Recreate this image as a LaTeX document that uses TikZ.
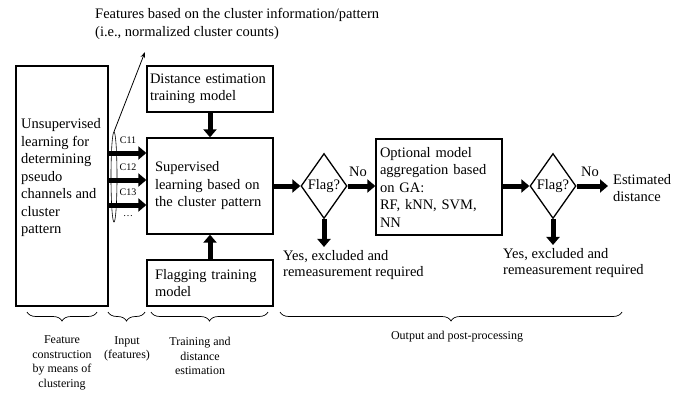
\documentclass[tikz,border=0pt]{standalone}
\usepackage{fontspec}
\setmainfont{Liberation Serif}
\usetikzlibrary{arrows.meta,shapes.geometric,decorations.pathreplacing}
\begin{document}
\begin{tikzpicture}[x=1pt,y=-1pt,
  mainfont/.style={font=\fontsize{14.5}{17.5}\selectfont},
  smallfont/.style={font=\fontsize{12}{14.5}\selectfont},
  tinyfont/.style={font=\fontsize{10}{12}\selectfont},
  box/.style={draw, line width=1.3pt, mainfont, align=left},
  flagbox/.style={draw, diamond, line width=1.3pt, mainfont, shape aspect=0.71, inner sep=0pt, minimum width=46pt, minimum height=65pt},
  bigarrow/.style={line width=5pt, -{Triangle[length=8pt,width=13pt]}},
  bracedeco/.style={decorate, decoration={brace, mirror, amplitude=9pt}, line width=0.7pt},
  plaintext/.style={mainfont, align=left, inner sep=0pt}
]
\useasboundingbox[fill=white] (0,0) rectangle (688,396);

% boxes
\node[draw, line width=1.3pt, minimum width=92pt, minimum height=240pt, inner sep=0pt] (unsup) at (62,186) {};
\node[plaintext, anchor=west] (unsuptext) at (21,178) {Unsupervised\\learning for\\determining\\pseudo\\channels and\\cluster\\pattern};

\node[box, text width=120pt, inner xsep=3pt, minimum height=46pt] (dist) at (210,89) {Distance estimation\\training model};
\node[box, text width=110pt, inner xsep=8pt, minimum height=96pt] (sup) at (210,186) {Supervised\\learning based on\\the cluster pattern};
\node[box, text width=110pt, inner xsep=8pt, minimum height=46pt] (flag) at (210,283) {Flagging training\\model};
\node[box, text width=118pt, inner xsep=4pt, minimum height=96pt] (opt) at (439,187) {Optional model\\aggregation based\\on GA:\\RF, kNN, SVM,\\NN};

\node[flagbox] (d1) at (324,186) {Flag?};
\node[flagbox] (d2) at (553,186) {Flag?};

% input ellipse and labels
\node[draw, ellipse, line width=0.6pt, minimum width=6pt, minimum height=90pt, inner sep=0pt] (inputs) at (114,177) {};
\node[tinyfont] (c11) at (128,140) {C11};
\node[tinyfont] (c12) at (128,167) {C12};
\node[tinyfont] (c13) at (128,192) {C13};
\node[tinyfont] (cdots) at (128,216) {\dots};

\draw[bigarrow] (unsup.east |- 0,153) -- (sup.west |- 0,153);
\draw[bigarrow] (unsup.east |- 0,180) -- (sup.west |- 0,180);
\draw[bigarrow] (unsup.east |- 0,205) -- (sup.west |- 0,205);

% top text
\node[plaintext, anchor=west] (feat) at (95,24) {Features based on the cluster information/pattern\\(i.e., normalized cluster counts)};
\coordinate (ftip) at (145,52);
\draw[line width=0.8pt, -{Stealth[length=6pt,width=4.5pt]}] (inputs.north) -- (ftip);

% vertical arrows
\draw[bigarrow] (dist.south) -- (sup.north);
\draw[bigarrow] (flag.north) -- (sup.south);

% main row
\node[plaintext, anchor=west] (est) at (613,188) {Estimated\\distance};
\node[mainfont, inner sep=0pt] (no1) at (358,172) {No};
\node[mainfont, inner sep=0pt] (no2) at (590,172) {No};
\draw[bigarrow] (sup.east) -- (d1.west);
\draw[bigarrow] (d1.east) -- (opt.west |- d1.east);
\draw[bigarrow] (opt.east |- d2.west) -- (d2.west);
\draw[bigarrow] (d2.east) -- ([xshift=-5pt]est.west |- d2.east);

\node[plaintext, anchor=west, font=\fontsize{14.5}{16.5}\selectfont, inner ysep=3pt] (yes1) at (283,265) {Yes, excluded and\\remeasurement required};
\node[plaintext, anchor=west, font=\fontsize{14.5}{16.5}\selectfont, inner ysep=3pt] (yes2) at (503,263) {Yes, excluded and\\remeasurement required};
\draw[bigarrow] (d1.south) -- (d1.south |- yes1.north);
\draw[bigarrow] (d2.south) -- (d2.south |- yes2.north);

% braces
\draw[bracedeco] (27,312) -- (97,312);
\draw[bracedeco] (108,312) -- (145,312);
\draw[bracedeco] (151,312) -- (268,312);
\draw[bracedeco] (280,312) -- (622,312);

\node[smallfont, align=center, inner sep=0pt] (lab1) at (62,363) {Feature\\construction\\by means of\\clustering};
\node[smallfont, align=center, inner sep=0pt] (lab2) at (127,349) {Input\\(features)};
\node[smallfont, align=center, inner sep=0pt] (lab3) at (200,356) {Training and\\distance\\estimation};
\node[smallfont, align=center, inner sep=0pt] (lab4) at (457,337) {Output and post-processing};
\end{tikzpicture}
\end{document}
